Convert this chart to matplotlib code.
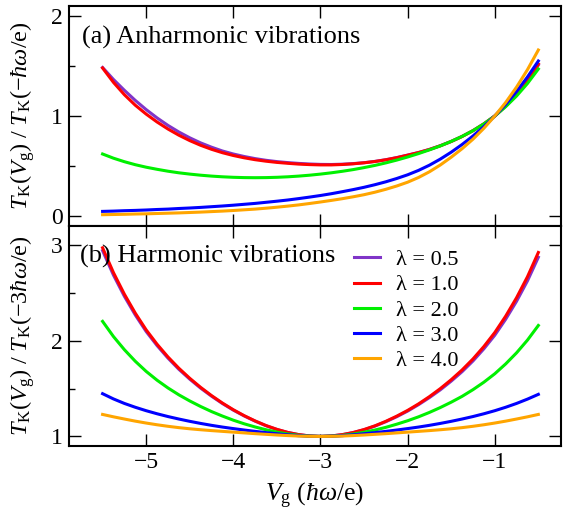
import matplotlib
matplotlib.use("Agg")
import matplotlib.pyplot as plt

plt.rcParams['font.family'] = ['Liberation Serif', 'DejaVu Serif']
plt.rcParams['mathtext.fontset'] = 'custom'
plt.rcParams['mathtext.rm'] = 'Liberation Serif'
plt.rcParams['mathtext.it'] = 'Liberation Serif:italic'
plt.rcParams['mathtext.bf'] = 'Liberation Serif:bold'

# ---------------- data ----------------
vg = [-5.5, -5.375, -5.25, -5.125, -5.0, -4.875, -4.75, -4.625, -4.5, -4.375,
      -4.25, -4.125, -4.0, -3.875, -3.75, -3.625, -3.5, -3.375, -3.25, -3.125,
      -3.0, -2.875, -2.75, -2.625, -2.5, -2.375, -2.25, -2.125, -2.0, -1.875,
      -1.75, -1.625, -1.5, -1.375, -1.25, -1.125, -1.0, -0.875, -0.75, -0.625, -0.5]

lambdas = ["0.5", "1.0", "2.0", "3.0", "4.0"]
colors = ['#8035c8', '#ff0000', '#00f000', '#0000ff', '#ffa500']

# (a) Anharmonic vibrations: T_K(Vg)/T_K(-hw/e)
anh_05 = [1.485, 1.365, 1.257, 1.156, 1.064, 0.981, 0.906, 0.840, 0.782, 0.731,
          0.688, 0.650, 0.620, 0.595, 0.574, 0.557, 0.544, 0.534, 0.526, 0.520,
          0.516, 0.515, 0.518, 0.524, 0.533, 0.546, 0.563, 0.584, 0.609, 0.635,
          0.666, 0.703, 0.746, 0.796, 0.854, 0.922, 1.000, 1.098, 1.214, 1.352, 1.510]
anh_10 = [1.480, 1.336, 1.213, 1.108, 1.019, 0.940, 0.870, 0.808, 0.754, 0.707,
          0.667, 0.633, 0.605, 0.582, 0.563, 0.548, 0.536, 0.527, 0.519, 0.514,
          0.511, 0.511, 0.515, 0.522, 0.532, 0.545, 0.562, 0.583, 0.608, 0.634,
          0.665, 0.702, 0.745, 0.795, 0.853, 0.921, 1.000, 1.100, 1.218, 1.358, 1.520]
anh_20 = [0.620, 0.578, 0.543, 0.513, 0.488, 0.467, 0.448, 0.432, 0.419, 0.408,
          0.399, 0.392, 0.387, 0.384, 0.383, 0.384, 0.387, 0.392, 0.399, 0.408,
          0.419, 0.432, 0.447, 0.464, 0.484, 0.506, 0.531, 0.559, 0.590, 0.624,
          0.661, 0.701, 0.746, 0.796, 0.853, 0.921, 1.000, 1.093, 1.200, 1.325, 1.470]
anh_30 = [0.046, 0.049, 0.053, 0.056, 0.060, 0.065, 0.069, 0.075, 0.080, 0.086,
          0.093, 0.100, 0.108, 0.117, 0.126, 0.137, 0.148, 0.160, 0.174, 0.189,
          0.205, 0.223, 0.243, 0.264, 0.287, 0.313, 0.342, 0.375, 0.412, 0.456,
          0.508, 0.569, 0.638, 0.715, 0.800, 0.894, 1.000, 1.116, 1.245, 1.390, 1.550]
anh_40 = [0.013, 0.015, 0.017, 0.020, 0.022, 0.025, 0.028, 0.031, 0.035, 0.039,
          0.044, 0.049, 0.055, 0.062, 0.069, 0.078, 0.088, 0.099, 0.111, 0.125,
          0.140, 0.156, 0.173, 0.192, 0.213, 0.238, 0.267, 0.300, 0.338, 0.385,
          0.442, 0.510, 0.588, 0.673, 0.768, 0.877, 1.000, 1.135, 1.289, 1.463, 1.660]

# (b) Harmonic vibrations: T_K(Vg)/T_K(-3hw/e)
har_05 = [2.942, 2.686, 2.465, 2.270, 2.097, 1.950, 1.819, 1.702, 1.599, 1.505,
          1.421, 1.344, 1.275, 1.214, 1.160, 1.112, 1.073, 1.041, 1.019, 1.005,
          1.000, 1.005, 1.018, 1.040, 1.070, 1.108, 1.154, 1.206, 1.265, 1.332,
          1.406, 1.487, 1.578, 1.677, 1.789, 1.916, 2.058, 2.225, 2.413, 2.626, 2.873]
har_10 = [2.972, 2.712, 2.487, 2.289, 2.114, 1.964, 1.831, 1.713, 1.608, 1.513,
          1.427, 1.349, 1.279, 1.217, 1.162, 1.114, 1.074, 1.042, 1.019, 1.005,
          1.000, 1.005, 1.019, 1.041, 1.072, 1.111, 1.158, 1.212, 1.272, 1.340,
          1.416, 1.500, 1.593, 1.695, 1.810, 1.940, 2.086, 2.257, 2.450, 2.669, 2.923]
har_20 = [2.203, 2.044, 1.907, 1.786, 1.680, 1.588, 1.507, 1.435, 1.371, 1.313,
          1.260, 1.213, 1.170, 1.132, 1.099, 1.070, 1.045, 1.026, 1.012, 1.003,
          1.000, 1.003, 1.011, 1.025, 1.044, 1.067, 1.095, 1.128, 1.164, 1.205,
          1.251, 1.302, 1.358, 1.419, 1.489, 1.567, 1.655, 1.758, 1.874, 2.007, 2.160]
har_30 = [1.447, 1.392, 1.345, 1.305, 1.269, 1.237, 1.208, 1.182, 1.158, 1.136,
          1.116, 1.098, 1.082, 1.067, 1.053, 1.040, 1.028, 1.017, 1.008, 1.002,
          1.000, 1.002, 1.008, 1.017, 1.028, 1.040, 1.053, 1.067, 1.082, 1.098,
          1.116, 1.136, 1.158, 1.182, 1.208, 1.237, 1.269, 1.305, 1.345, 1.390, 1.440]
har_40 = [1.230, 1.205, 1.182, 1.160, 1.140, 1.122, 1.106, 1.092, 1.080, 1.070,
          1.061, 1.053, 1.045, 1.037, 1.029, 1.022, 1.015, 1.009, 1.004, 1.001,
          1.000, 1.001, 1.004, 1.009, 1.015, 1.022, 1.029, 1.037, 1.045, 1.053,
          1.061, 1.070, 1.080, 1.092, 1.106, 1.122, 1.140, 1.160, 1.182, 1.205, 1.230]

anh = [anh_05, anh_10, anh_20, anh_30, anh_40]
har = [har_05, har_10, har_20, har_30, har_40]

xticks = [-5, -4, -3, -2, -1]
xticklabels = ["\u22125", "\u22124", "\u22123", "\u22122", "\u22121"]

# ---------------- figure ----------------
fig = plt.figure(figsize=(5.64, 5.21), dpi=100)
W, H = 564.0, 521.0
left, right = 68.6 / W, 561.0 / W
ax1 = fig.add_axes([left, 1 - 226 / H, right - left, 220 / H])
ax2 = fig.add_axes([left, 1 - 446 / H, right - left, 220 / H])

lw = 2.2
for vals, c in zip(anh, colors):
    ax1.plot(vg, vals, color=c, lw=lw)
for vals, c, lab in zip(har, colors, lambdas):
    ax2.plot(vg, vals, color=c, lw=lw, label="\u03bb = " + lab)

tick_fs = 17
for ax in (ax1, ax2):
    ax.set_xlim(-5.89, -0.24)
    ax.set_xticks(xticks)
    for s in ax.spines.values():
        s.set_linewidth(1.5)
    ax.tick_params(axis='both', which='major', direction='in', length=8.5, width=1.0,
                   top=True, right=True, labelsize=tick_fs, pad=4)
    ax.tick_params(axis='y', which='minor', direction='in', length=4.5, width=1.0,
                   left=True, right=False)
    ax.tick_params(axis='x', which='minor', bottom=False, top=False)

ax1.set_ylim(-0.1, 2.1)
ax1.set_yticks([0, 1, 2])
ax1.set_yticks([0.5, 1.5], minor=True)
ax1.set_xticklabels([])

ax2.set_ylim(0.9, 3.2)
ax2.set_yticks([1, 2, 3])
ax2.set_yticks([1.5, 2.5], minor=True)
ax2.set_xticklabels(xticklabels)

ax1.text(0.027, 0.827, "(a) Anharmonic vibrations", transform=ax1.transAxes,
         fontsize=19, va='baseline', ha='left')
ax2.text(0.023, 0.832, "(b) Harmonic vibrations", transform=ax2.transAxes,
         fontsize=19, va='baseline', ha='left')

lab_fs = 17.5
ax1.set_ylabel(r"$T_{\rm K}(V_{\rm g})\ /\ T_{\rm K}(-\hbar\omega/{\rm e})$", fontsize=lab_fs)
ax2.set_ylabel(r"$T_{\rm K}(V_{\rm g})\ /\ T_{\rm K}(-3\hbar\omega/{\rm e})$", fontsize=lab_fs)
ax2.set_xlabel(r"$V_{\rm g}$ ($\hbar$$\omega$/e)", fontsize=18.5, labelpad=6)
ax1.yaxis.set_label_coords(-0.064, 0.5)
ax2.yaxis.set_label_coords(-0.064, 0.5)

ax2.legend(loc='upper left', bbox_to_anchor=(0.5796, 0.893), frameon=False,
           fontsize=16, handlelength=1.15, handletextpad=0.75, labelspacing=0.21,
           borderpad=0, borderaxespad=0)

fig.savefig("out.png", dpi=100)
